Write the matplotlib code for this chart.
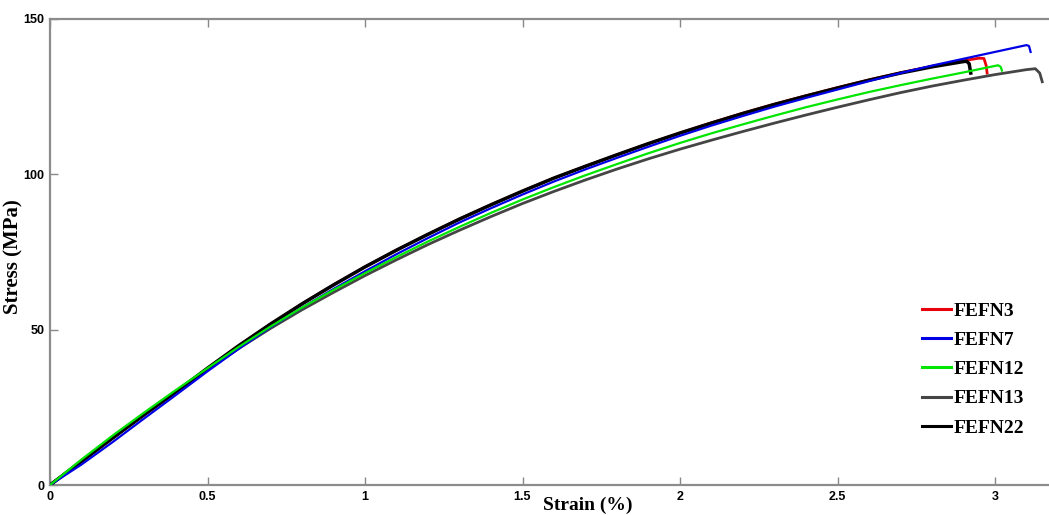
import numpy as np
import matplotlib
matplotlib.use('Agg')
import matplotlib.pyplot as plt

# strain (%) grid shared by the main part of every curve
strain = [0.0, 0.1, 0.2, 0.3, 0.4, 0.5, 0.6, 0.7, 0.8, 0.9, 1.0,
          1.1, 1.2, 1.3, 1.4, 1.5, 1.6, 1.7, 1.8, 1.9, 2.0,
          2.1, 2.2, 2.3, 2.4, 2.5, 2.6, 2.7, 2.8, 2.9]

# stress (MPa) on that grid
fefn3 = [0.0, 7.6, 15.2, 22.7, 30.0, 37.6, 44.9, 51.8, 58.3, 64.4, 70.2,
         75.6, 80.7, 85.6, 90.2, 94.6, 98.8, 102.6, 106.3, 109.9, 113.3,
         116.6, 119.7, 122.6, 125.3, 127.9, 130.4, 132.7, 134.8, 136.6]
fefn7 = [0.0, 6.6, 13.9, 21.5, 29.0, 36.6, 43.9, 50.8, 57.1, 63.1, 68.8,
         74.3, 79.5, 84.5, 89.1, 93.5, 97.7, 101.6, 105.3, 108.9, 112.4,
         115.7, 118.8, 121.8, 124.6, 127.3, 130.0, 132.6, 135.0, 137.2]
fefn12 = [0.0, 8.2, 16.0, 23.4, 30.6, 37.6, 44.5, 51.0, 57.1, 62.8, 68.2,
          73.4, 78.4, 83.1, 87.6, 91.9, 95.9, 99.7, 103.3, 106.8, 110.1,
          113.2, 116.1, 118.9, 121.6, 124.1, 126.5, 128.7, 130.8, 132.8]
fefn13 = [0.0, 7.9, 15.6, 23.0, 30.2, 37.2, 44.0, 50.4, 56.4, 62.0, 67.4,
          72.5, 77.4, 82.0, 86.4, 90.6, 94.5, 98.2, 101.7, 105.0, 108.1,
          111.0, 113.8, 116.5, 119.1, 121.6, 124.0, 126.3, 128.4, 130.3]
fefn22 = [0.0, 7.6, 15.2, 22.7, 30.0, 37.6, 44.9, 51.8, 58.3, 64.4, 70.2,
          75.6, 80.7, 85.6, 90.2, 94.6, 98.8, 102.6, 106.3, 109.9, 113.3,
          116.5, 119.6, 122.5, 125.2, 127.8, 130.3, 132.6, 134.6, 136.3]

# tail of each test up to fracture (strain, stress)
tail3_x = [2.95, 2.965, 2.972, 2.975]
tail3_y = [137.4, 137.3, 135.0, 132.6]
tail7_x = [3.0, 3.1, 3.108, 3.113]
tail7_y = [139.4, 141.6, 141.3, 139.4]
tail12_x = [3.0, 3.01, 3.018, 3.022]
tail12_y = [134.9, 135.1, 134.6, 133.4]
tail13_x = [3.0, 3.1, 3.128, 3.142, 3.15]
tail13_y = [132.1, 133.7, 134.0, 132.6, 129.8]
tail22_x = [2.91, 2.918, 2.923]
tail22_y = [136.4, 135.6, 132.6]

labels = ['FEFN3', 'FEFN7', 'FEFN12', 'FEFN13', 'FEFN22']
colors = ['#e8000b', '#0000e6', '#00e600', '#454545', '#000000']

x3 = strain + tail3_x
y3 = fefn3 + tail3_y
x7 = strain + tail7_x
y7 = fefn7 + tail7_y
x12 = strain + tail12_x
y12 = fefn12 + tail12_y
x13 = strain + tail13_x
y13 = fefn13 + tail13_y
x22 = strain + tail22_x
y22 = fefn22 + tail22_y

fig = plt.figure(figsize=(10.49, 5.15), dpi=100)
ax = fig.add_axes([50/1049, 30/515, 1008/1049, 466/515])

lw = 2.0
l3, = ax.plot(x3, y3, color=colors[0], lw=lw, zorder=2)
l13, = ax.plot(x13, y13, color=colors[3], lw=lw, zorder=3)
l22, = ax.plot(x22, y22, color=colors[4], lw=lw + 0.5, zorder=4)
l7, = ax.plot(x7, y7, color=colors[1], lw=lw - 0.4, zorder=5)
l12, = ax.plot(x12, y12, color=colors[2], lw=lw - 0.4, zorder=6)

ax.set_xlim(0, 3.2)
ax.set_ylim(0, 150)
ax.set_xticks([0, 0.5, 1, 1.5, 2, 2.5, 3])
ax.set_xticklabels(['0', '0.5', '1', '1.5', '2', '2.5', '3'])
ax.set_yticks([0, 50, 100, 150])
ax.tick_params(direction='in', length=6, width=1.0, color='#888888',
               top=True, labelsize=9, pad=4)
for t in ax.get_xticklabels() + ax.get_yticklabels():
    t.set_fontweight('bold')
    t.set_family('Liberation Sans')
for s in ax.spines.values():
    s.set_color('#8c8c8c')
    s.set_linewidth(1.6)

ax.set_xlabel('Strain (%)', fontsize=14, fontweight='bold', family='Liberation Serif')
ax.xaxis.set_label_coords(538/1008, -12/466)
ax.set_ylabel('Stress (MPa)', fontsize=15, fontweight='bold', family='Liberation Serif')
ax.yaxis.set_label_coords(-27/1008, 228/466)

leg = ax.legend([l3, l7, l12, l13, l22], labels, loc='upper left',
                bbox_to_anchor=(872/1008, 183/466), frameon=False,
                prop={'family': 'Liberation Serif', 'weight': 'bold', 'size': 14},
                handlelength=1.5, handletextpad=0.15, labelspacing=0.6,
                borderpad=0, borderaxespad=0)
for h in leg.get_lines():
    h.set_linewidth(2.2)

fig.savefig('out.png', dpi=100)
